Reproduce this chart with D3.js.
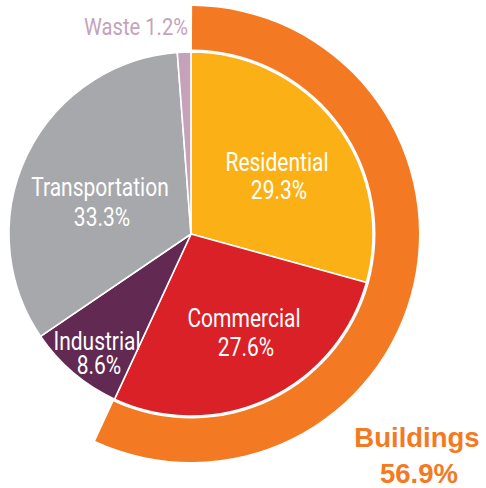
<!DOCTYPE html>
<html lang="en">
<head>
<meta charset="UTF-8">
<title>Emissions by sector</title>
<style>
    body { margin: 0; background: #fff; }
    text { font-family: Roboto, "Liberation Sans", Arial, sans-serif; }
</style>
</head>
<body>
<script src="https://cdn.jsdelivr.net/npm/d3@7/dist/d3.min.js"></script>
<script>

var sectors = ["Residential", "Commercial", "Industrial", "Transportation", "Waste"];
var shares = [29.3, 27.6, 8.6, 33.3, 1.2];
var colours = ["#fbb116", "#da2128", "#622a52", "#a7a8ab", "#c6a2ba"];
var groupLabel = "Buildings";
var groupShare = 56.9;   // Residential + Commercial

var width = 486, height = 488;
var cx = 191, cy = 234;
var r = 182;
var narrow = 0.84;   // no condensed face installed, so squeeze the text

var svg = d3.select("body").append("svg")
    .attr("width", width)
    .attr("height", height);

var g = svg.append("g")
    .attr("transform", "translate(" + cx + "," + cy + ")");

var data = sectors.map(function (s, i) { return { name: s, value: shares[i], colour: colours[i] }; });

var pie = d3.pie().sort(null).value(function (d) { return d.value; });
var arcs = pie(data);

var arc = d3.arc().innerRadius(0).outerRadius(r);

// outer ring for the buildings total
var ringEnd = arcs[1].endAngle;
g.append("path")
    .attr("d", d3.arc().innerRadius(r + 2.5).outerRadius(r + 46)({ startAngle: 0.005, endAngle: ringEnd }))
    .style("fill", "#f37a22");

g.selectAll(".slice")
    .data(arcs)
  .enter().append("path")
    .attr("class", "slice")
    .attr("d", arc)
    .style("fill", function (d) { return d.data.colour; })
    .style("stroke", "#fff")
    .style("stroke-width", 1.6)
    .style("stroke-linejoin", "round");

function squeezed(x, y, anchor, str) {
    return svg.append("g")
        .attr("transform", "translate(" + x + "," + y + ") scale(" + narrow + ",1)")
      .append("text")
        .attr("text-anchor", anchor)
        .text(str);
}

// labels inside slices (centre x, first baseline, line gap)
var labelPos = {
    "Residential":    [277, 171, 28],
    "Commercial":     [244, 327, 29],
    "Industrial":     [97, 350, 24],
    "Transportation": [100, 196, 30]
};

arcs.forEach(function (d) {
    var p = labelPos[d.data.name];
    if (!p) return;
    squeezed(p[0], p[1], "middle", d.data.name)
        .style("fill", "#fff").style("font-size", "25px");
    squeezed(p[0] + 2, p[1] + p[2], "middle", d3.format(".1f")(d.data.value) + "%")
        .style("fill", "#fff").style("font-size", "25px");
});

// waste sits outside
squeezed(188, 35, "end", sectors[4] + " " + d3.format(".1f")(shares[4]) + "%")
    .style("fill", colours[4])
    .style("font-size", "24px");

var b = svg.append("text")
    .attr("text-anchor", "middle")
    .style("fill", "#f37a22")
    .style("font-family", "'Liberation Sans', Arial, sans-serif")
    .style("font-weight", "bold")
    .style("font-size", "27.5px");
b.append("tspan").attr("x", 417).attr("y", 447).text(groupLabel);
b.append("tspan").attr("x", 419).attr("y", 483).text(d3.format(".1f")(groupShare) + "%");

</script>
</body>
</html>
